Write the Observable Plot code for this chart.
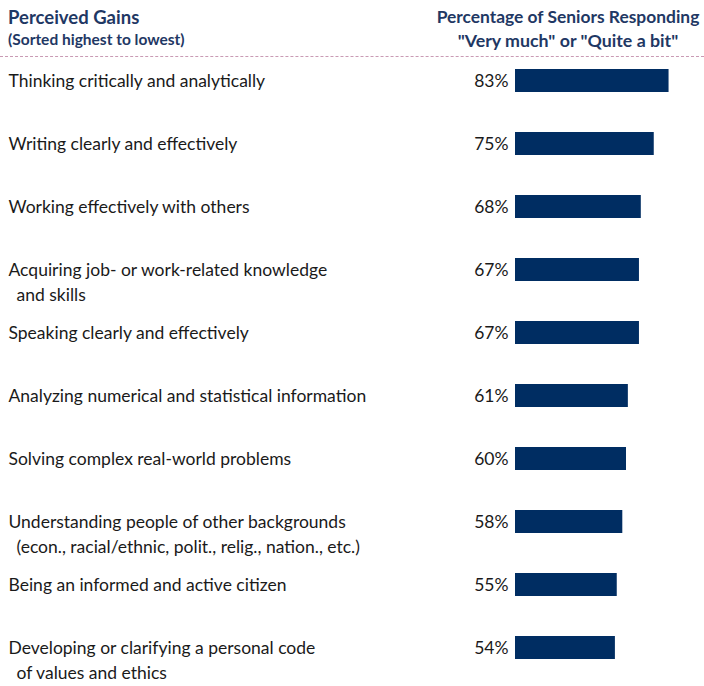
<!DOCTYPE html>
<html>
<head>
<meta charset="utf-8">
<script src="https://cdn.jsdelivr.net/npm/d3@7"></script>
<script src="https://cdn.jsdelivr.net/npm/@observablehq/plot@0.6"></script>
<style>
  html, body { margin: 0; padding: 0; background: #fff; }
  body { width: 704px; font-family: Lato, "Open Sans", sans-serif; }
  #header { position: relative; width: 704px; height: 60px; color: #1f3864; font-weight: bold; }
  #header div { position: absolute; white-space: nowrap; line-height: 1; }
  .l1 { left: 8px; top: 8px; font-size: 18.5px; }
  .l2 { left: 8px; top: 32px; font-size: 15.5px; }
  .r1 { left: 432px; width: 272px; text-align: center; top: 8px; font-size: 17.4px; }
  .r2 { left: 432px; width: 272px; text-align: center; top: 32px; font-size: 17.8px; }
  #rule { position: absolute; left: 0; top: 56px; width: 704px; height: 0; border-top: 1px dashed #c99ab4; }
  #chart svg { display: block; }
</style>
</head>
<body>
<div id="header">
  <div class="l1">Perceived Gains</div>
  <div class="l2">(Sorted highest to lowest)</div>
  <div class="r1">Percentage of Seniors Responding</div>
  <div class="r2">"Very much" or "Quite a bit"</div>
  <div id="rule"></div>
</div>
<div id="chart"></div>
<script>
const gains = [
  "Thinking critically and analytically",
  "Writing clearly and effectively",
  "Working effectively with others",
  "Acquiring job- or work-related knowledge",
  "Speaking clearly and effectively",
  "Analyzing numerical and statistical information",
  "Solving complex real-world problems",
  "Understanding people of other backgrounds",
  "Being an informed and active citizen",
  "Developing or clarifying a personal code"
];
const gainsContinued = [
  "", "", "",
  "and skills",
  "", "", "",
  "(econ., racial/ethnic, polit., relig., nation., etc.)",
  "",
  "of values and ethics"
];
const percents = [83, 75, 68, 67, 67, 61, 60, 58, 55, 54];

const data = gains.map((g, i) => ({gain: g, more: gainsContinued[i], pct: percents[i]}));

const chart = Plot.plot({
  width: 704,
  height: 626,
  marginLeft: 515,
  marginRight: 4,
  marginTop: 7,
  marginBottom: 26,
  style: {fontFamily: "Lato, 'Open Sans', sans-serif", background: "#fff"},
  x: {domain: [0, 100], axis: null},
  y: {domain: gains, axis: null, paddingInner: 0.636, paddingOuter: 0, align: 0.5},
  marks: [
    Plot.barX(data, {x: "pct", y: "gain", fill: "#002d62"}),
    Plot.text(data, {
      x: 0, y: "gain", text: d => d.pct + "%",
      textAnchor: "end", dx: -7, fontSize: 17.5, fill: "#1a1a1a"
    }),
    Plot.text(data, {
      y: "gain", text: "gain",
      frameAnchor: "left", textAnchor: "start",
      dx: -507, fontSize: 17.5, fill: "#1a1a1a"
    }),
    Plot.text(data.filter(d => d.more), {
      y: "gain", text: "more",
      frameAnchor: "left", textAnchor: "start",
      dx: -499, dy: 25, fontSize: 17.5, fill: "#1a1a1a"
    })
  ]
});
document.getElementById("chart").appendChild(chart);
</script>
</body>
</html>
